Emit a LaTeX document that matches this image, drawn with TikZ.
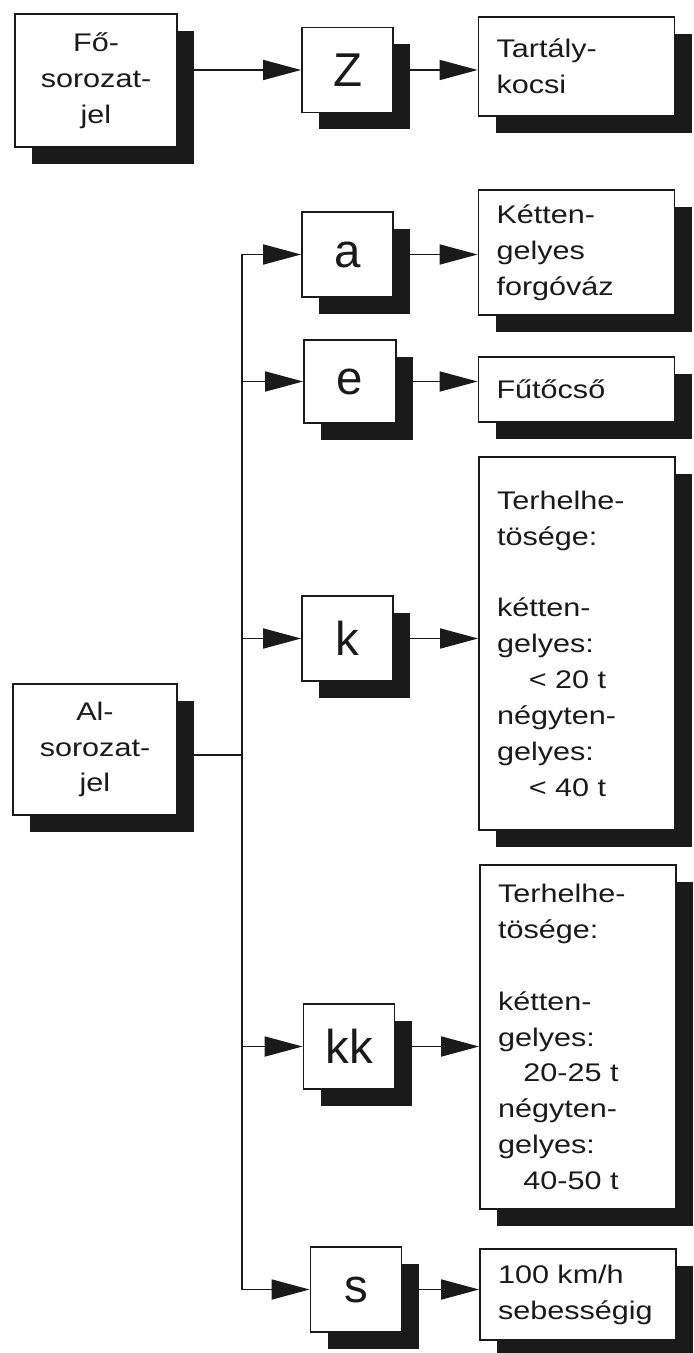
\documentclass[tikz,border=0pt]{standalone}
\usepackage{fontspec}
\setmainfont{Liberation Sans}
\newfontfamily\boxfont{Liberation Sans}[FakeStretch=1.2]
\usetikzlibrary{arrows.meta,shadows}
\definecolor{ink}{HTML}{1A1A1A}
\tikzset{
  every node/.style={text=ink},
  box/.style={draw=ink, line width=1pt, fill=white, inner sep=0pt,
              drop shadow={shadow xshift=0.34cm, shadow yshift=-0.34cm, fill=ink, opacity=1}},
  srcbox/.style={box, minimum width=3.24cm, minimum height=2.66cm, align=center,
                 font=\boxfont\fontsize{14.5}{20.4}\selectfont},
  letterbox/.style={box, minimum width=1.82cm, minimum height=1.70cm,
                    font=\fontsize{27}{30}\selectfont},
  infobox/.style={box, text width=3.2cm, inner xsep=0.36cm, align=left,
                  font=\boxfont\fontsize{14.5}{20.4}\selectfont},
  arr/.style={-{Triangle[length=0.76cm, width=0.4cm]}, line width=1pt, draw=ink},
  wire/.style={line width=1pt, draw=ink},
}

\begin{document}
\begin{tikzpicture}
\useasboundingbox (0,0) rectangle (13.86,-27.06);

% --- main series code ---
\node[srcbox] (fo) at (1.92,-1.61) {Fő-\\sorozat-\\jel};
\node[letterbox] (Z) at (6.95,-1.40) {Z};
\node[infobox, minimum height=1.98cm] (tart) at (11.53,-1.33) {Tartály-\\kocsi};
\draw[arr] (fo.east |- Z.west) -- (Z.west);
\draw[arr] (Z.east) -- (Z.east -| tart.west);

% --- sub-series code ---
\node[srcbox, minimum width=3.28cm, minimum height=2.62cm] (al) at (1.90,-14.99) {Al-\\sorozat-\\jel};
\coordinate (trunk) at (4.84,-15.10);

\node[letterbox] (a) at (6.95,-5.09) {a};
\node[letterbox, minimum width=1.84cm, minimum height=1.66cm] (e) at (7.00,-7.63) {e};
\node[letterbox] (k) at (6.95,-12.77) {k};
\node[letterbox] (kk) at (6.98,-20.93) {kk};
\node[letterbox] (s) at (7.12,-25.79) {s};

\node[infobox, minimum height=2.50cm] (ketten) at (11.53,-5.05) {Kétten-\\gelyes\\forgóváz};
\node[infobox, minimum height=1.30cm] (futo) at (11.53,-7.79) {Fűtőcső};
\node[infobox, minimum height=7.46cm] (terhA) at (11.54,-12.87)
  {Terhelhe-\\tösége:\\[20.4pt]kétten-\\gelyes:\\\hspace*{1.25em}< 20 t\\négyten-\\gelyes:\\\hspace*{1.25em}< 40 t};
\node[infobox, minimum height=6.88cm] (terhB) at (11.56,-20.74)
  {Terhelhe-\\tösége:\\[20.4pt]kétten-\\gelyes:\\\hspace*{1em}20-25 t\\négyten-\\gelyes:\\\hspace*{1em}40-50 t};
\node[infobox, minimum height=1.82cm] (seb) at (11.56,-25.89) {100 km/h\\sebességig};

\draw[wire] (al.east |- trunk) -- (trunk);
\draw[wire] (trunk |- a.west) -- (trunk |- s.west);
\draw[arr] (trunk |- a.west) -- (a.west);
\draw[arr] (trunk |- e.west) -- (e.west);
\draw[arr] (trunk |- k.west) -- (k.west);
\draw[arr] (trunk |- kk.west) -- (kk.west);
\draw[arr] (trunk |- s.west) -- (s.west);

\draw[arr] (a.east) -- (a.east -| ketten.west);
\draw[arr] (e.east) -- (e.east -| futo.west);
\draw[arr] (k.east) -- (k.east -| terhA.west);
\draw[arr] (kk.east) -- (kk.east -| terhB.west);
\draw[arr] (s.east) -- (s.east -| seb.west);

\end{tikzpicture}
\end{document}
